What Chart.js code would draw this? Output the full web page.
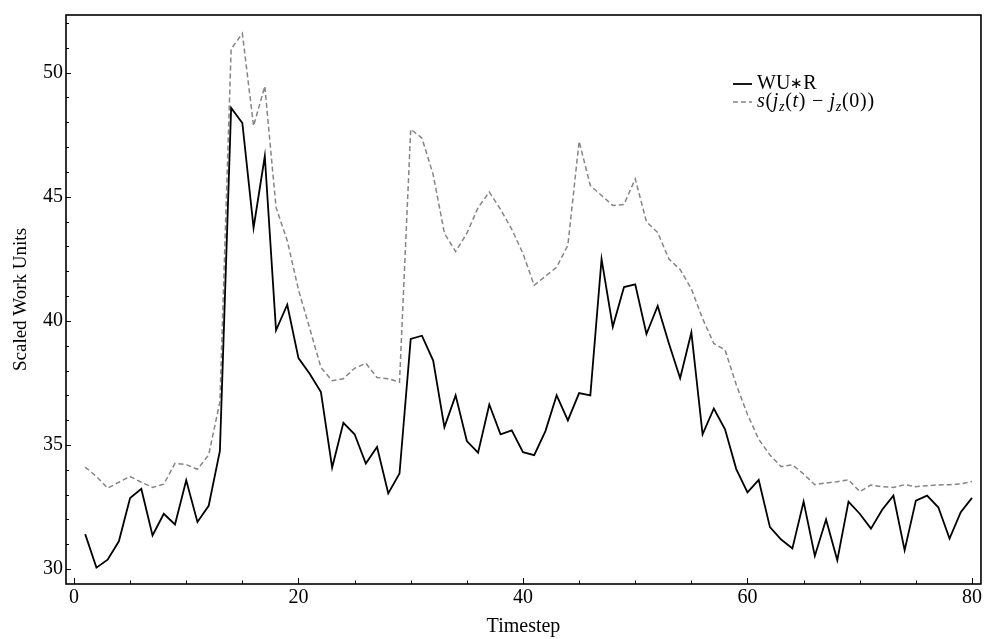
<!DOCTYPE html>
<html>
<head>
<meta charset="utf-8">
<script src="https://cdn.jsdelivr.net/npm/chart.js@4"></script>
<style>
  html, body { margin: 0; padding: 0; background: #fff; }
  #wrap { width: 984px; height: 639px; }
</style>
</head>
<body>
<div id="wrap"><canvas id="myChart" width="984" height="639"></canvas></div>
<script>
const timesteps = [1, 2, 3, 4, 5, 6, 7, 8, 9, 10, 11, 12, 13, 14, 15, 16, 17, 18, 19, 20,
  21, 22, 23, 24, 25, 26, 27, 28, 29, 30, 31, 32, 33, 34, 35, 36, 37, 38, 39, 40,
  41, 42, 43, 44, 45, 46, 47, 48, 49, 50, 51, 52, 53, 54, 55, 56, 57, 58, 59, 60,
  61, 62, 63, 64, 65, 66, 67, 68, 69, 70, 71, 72, 73, 74, 75, 76, 77, 78, 79, 80];

const wuR = [31.41, 30.06, 30.38, 31.12, 32.86, 33.23, 31.36, 32.23, 31.80, 33.58,
  31.90, 32.55, 34.76, 48.58, 47.97, 43.75, 46.63, 39.62, 40.65, 38.50,
  37.87, 37.13, 34.09, 35.89, 35.43, 34.25, 34.92, 33.05, 33.85, 39.27,
  39.40, 38.40, 35.72, 37.00, 35.16, 34.69, 36.63, 35.43, 35.59, 34.71,
  34.59, 35.56, 37.00, 35.99, 37.09, 37.00, 42.49, 39.76, 41.36, 41.47,
  39.47, 40.60, 39.09, 37.69, 39.53, 35.43, 36.47, 35.63, 34.03, 33.09,
  33.59, 31.69, 31.19, 30.83, 32.72, 30.53, 32.00, 30.36, 32.72, 32.23,
  31.63, 32.39, 32.96, 30.76, 32.76, 32.96, 32.49, 31.23, 32.29, 32.87];

const jzShift = [34.11, 33.73, 33.26, 33.50, 33.73, 33.50, 33.29, 33.42, 34.26, 34.21,
  34.02, 34.60, 36.74, 50.95, 51.58, 47.85, 49.45, 44.57, 43.23, 41.25,
  39.70, 38.12, 37.59, 37.67, 38.09, 38.29, 37.72, 37.67, 37.53, 47.72,
  47.36, 45.89, 43.53, 42.79, 43.53, 44.56, 45.19, 44.49, 43.69, 42.71,
  41.43, 41.80, 42.16, 43.05, 47.23, 45.45, 45.05, 44.65, 44.69, 45.72,
  43.99, 43.56, 42.49, 42.07, 41.29, 40.09, 39.09, 38.83, 37.43, 36.23,
  35.23, 34.60, 34.13, 34.20, 33.83, 33.40, 33.47, 33.52, 33.60, 33.12,
  33.39, 33.32, 33.29, 33.40, 33.32, 33.36, 33.39, 33.40, 33.43, 33.53];

const seriesLabels = ['WU\u2217R', 's(j_z(t) \u2212 j_z(0))'];
const xTickValues = [0, 20, 40, 60, 80];
const yTickValues = [30, 35, 40, 45, 50];

const serif = '"Liberation Serif", "Times New Roman", serif';
Chart.defaults.font.family = serif;
Chart.defaults.color = '#000';

function toPoints(values) {
  return values.map((v, i) => ({ x: timesteps[i], y: v }));
}

// ticks drawn inward like the original frame
const frameTicks = {
  id: 'frameTicks',
  afterDraw(chart) {
    const ctx = chart.ctx;
    const area = chart.chartArea;
    const xs = chart.scales.x;
    const ys = chart.scales.y;
    ctx.save();
    ctx.strokeStyle = '#000';
    ctx.lineWidth = 1;
    for (let v = 0; v <= 80; v += 5) {
      const px = Math.round(xs.getPixelForValue(v)) + 0.5;
      const len = v % 20 === 0 ? 6 : 3.5;
      ctx.beginPath();
      ctx.moveTo(px, area.bottom);
      ctx.lineTo(px, area.bottom - len);
      ctx.stroke();
    }
    for (let v = 30; v <= 52; v += 1) {
      const py = Math.round(ys.getPixelForValue(v)) + 0.5;
      const len = v % 5 === 0 ? 5 : 3;
      ctx.beginPath();
      ctx.moveTo(area.left, py);
      ctx.lineTo(area.left + len, py);
      ctx.stroke();
    }
    ctx.lineWidth = 1.6;
    ctx.strokeRect(area.left, area.top, area.right - area.left, area.bottom - area.top);
    ctx.restore();
  }
};

// small text layout: _x = subscript, letters italic when asked
function drawRichLabel(ctx, text, x, y, size, italicLetters) {
  const extra = italicLetters ? 0.7 : 0;
  let i = 0;
  while (i < text.length) {
    let ch = text[i];
    let sub = false;
    if (ch === '_') { sub = true; i++; ch = text[i]; }
    const italic = italicLetters && /[a-z]/i.test(ch);
    let fs = sub ? size * 0.7 : size;
    if (ch === '\u2217') fs = size * 0.75;
    ctx.font = (italic ? 'italic ' : '') + fs + 'px ' + serif;
    ctx.fillText(ch, x, sub ? y + size * 0.25 : y);
    x += ctx.measureText(ch).width + extra;
    i++;
  }
}

const mathLegend = {
  id: 'mathLegend',
  afterDraw(chart) {
    const ctx = chart.ctx;
    ctx.save();
    ctx.textBaseline = 'middle';
    ctx.fillStyle = '#000';
    chart.data.datasets.forEach((ds, i) => {
      const y = 84 + i * 18;
      ctx.strokeStyle = ds.borderColor;
      ctx.lineWidth = ds.borderWidth;
      ctx.setLineDash(ds.borderDash || []);
      ctx.beginPath();
      ctx.moveTo(733, y);
      ctx.lineTo(752, y);
      ctx.stroke();
      ctx.setLineDash([]);
      drawRichLabel(ctx, ds.label, 757, y, 20, i === 1);
    });
    ctx.restore();
  }
};

new Chart(document.getElementById('myChart'), {
  type: 'line',
  data: {
    datasets: [{
      label: seriesLabels[0],
      data: toPoints(wuR),
      borderColor: '#000',
      borderWidth: 1.8,
      pointRadius: 0,
      tension: 0,
      fill: false
    }, {
      label: seriesLabels[1],
      data: toPoints(jzShift),
      borderColor: '#858585',
      borderWidth: 1.5,
      borderDash: [5, 3],
      pointRadius: 0,
      tension: 0,
      fill: false
    }]
  },
  options: {
    responsive: false,
    animation: false,
    devicePixelRatio: 1,
    layout: { padding: { top: 11, right: 1, left: 0, bottom: 0 } },
    plugins: {
      legend: { display: false },
      tooltip: { enabled: false }
    },
    scales: {
      x: {
        type: 'linear',
        min: -0.71,
        max: 80.8,
        grid: { display: false, drawTicks: false },
        border: { display: false },
        afterBuildTicks: s => { s.ticks = xTickValues.map(v => ({ value: v })); },
        afterFit: s => { s.height = 55; },
        ticks: { font: { size: 20 }, padding: 2, maxRotation: 0, autoSkip: false },
        title: { display: true, text: 'Timestep', font: { size: 20 }, padding: { top: 0, bottom: 0 } }
      },
      y: {
        min: 29.4,
        max: 52.32,
        grid: { display: false, drawTicks: false },
        border: { display: false },
        afterBuildTicks: s => { s.ticks = yTickValues.map(v => ({ value: v })); },
        afterFit: s => { s.width = 66; },
        ticks: { font: { size: 20 }, padding: 3, autoSkip: false },
        title: { display: true, text: 'Scaled Work Units', font: { size: 19 }, padding: { top: 10, bottom: 0 } }
      }
    }
  },
  plugins: [frameTicks, mathLegend]
});
</script>
</body>
</html>
